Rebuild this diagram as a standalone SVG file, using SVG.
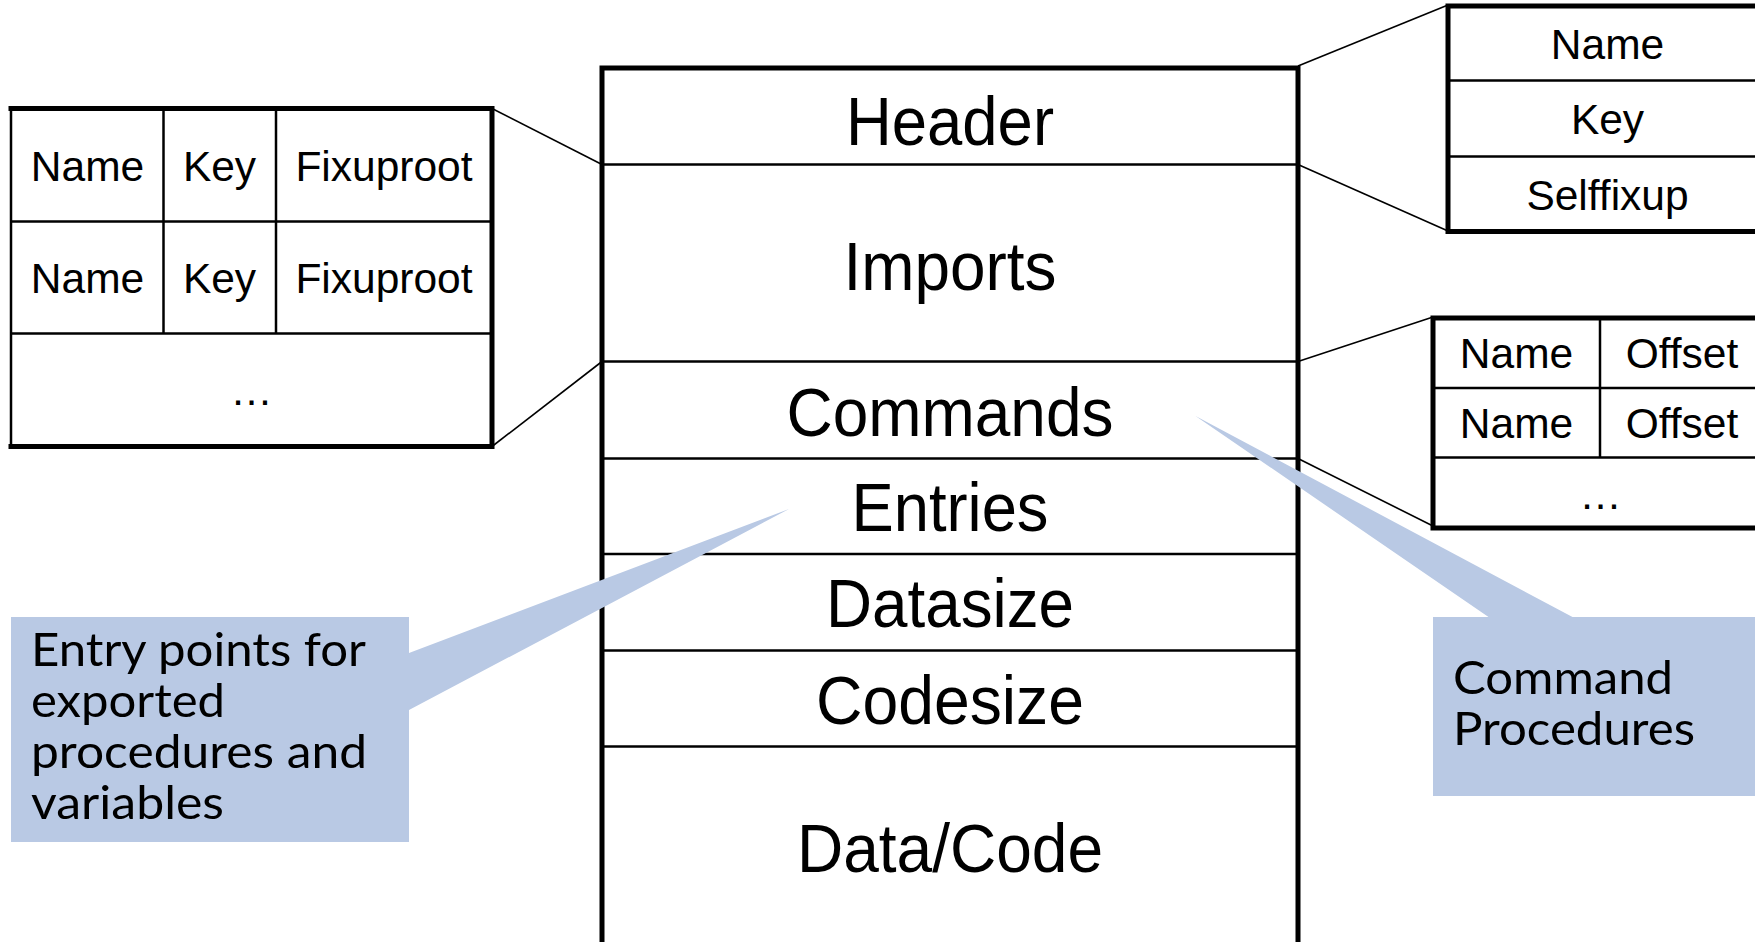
<svg xmlns="http://www.w3.org/2000/svg" width="1755" height="942" viewBox="0 0 1755 942">
  <style>
    .bg { fill: #ffffff; }
    .thick { fill: none; stroke: #000000; stroke-width: 5; stroke-linecap: square; }
    .thin { fill: none; stroke: #000000; stroke-width: 2.5; }
    .edge { fill: none; stroke: #000000; stroke-width: 1.6; }
    .cell { font-family: "Liberation Sans", Arial, sans-serif; font-size: 42.5px; fill: #000000; text-anchor: middle; }
    .seg { font-family: "Liberation Sans", Arial, sans-serif; font-size: 69px; fill: #000000; text-anchor: middle; }
    .callout { fill: #B9C9E4; }
    .note { font-family: Lato, "Open Sans", sans-serif; font-size: 47px; fill: #000000; }
  </style>

  <rect class="bg" x="0" y="0" width="1755" height="942"/>

  <!-- object file layout -->
  <g id="module">
    <line class="thin" x1="602" y1="164.5" x2="1298" y2="164.5"/>
    <line class="thin" x1="602" y1="361.5" x2="1298" y2="361.5"/>
    <line class="thin" x1="602" y1="458.5" x2="1298" y2="458.5"/>
    <line class="thin" x1="602" y1="554" x2="1298" y2="554"/>
    <line class="thin" x1="602" y1="650.5" x2="1298" y2="650.5"/>
    <line class="thin" x1="602" y1="746.5" x2="1298" y2="746.5"/>
    <path class="thick" d="M602,960 V68 H1298 V960"/>
    <text class="seg" x="950" y="144.5" textLength="208" lengthAdjust="spacingAndGlyphs">Header</text>
    <text class="seg" x="950" y="289.5" textLength="213" lengthAdjust="spacingAndGlyphs">Imports</text>
    <text class="seg" x="950" y="435.5" textLength="327" lengthAdjust="spacingAndGlyphs">Commands</text>
    <text class="seg" x="950" y="530.5" textLength="197" lengthAdjust="spacingAndGlyphs">Entries</text>
    <text class="seg" x="950" y="627" textLength="248" lengthAdjust="spacingAndGlyphs">Datasize</text>
    <text class="seg" x="950" y="723.5" textLength="268" lengthAdjust="spacingAndGlyphs">Codesize</text>
    <text class="seg" x="950" y="871.5" textLength="306" lengthAdjust="spacingAndGlyphs">Data/Code</text>
  </g>

  <!-- imports table -->
  <g id="imports-table">
    <line class="thin" x1="11" y1="221.5" x2="492" y2="221.5"/>
    <line class="thin" x1="11" y1="333.5" x2="492" y2="333.5"/>
    <line class="thin" x1="163.5" y1="108.5" x2="163.5" y2="333.5"/>
    <line class="thin" x1="276" y1="108.5" x2="276" y2="333.5"/>
    <line class="thin" x1="11" y1="108.5" x2="11" y2="446.5"/>
    <path class="thick" d="M11,108.5 H492 V446.5 H11"/>
    <text class="cell" x="87.5" y="181">Name</text>
    <text class="cell" x="219.5" y="181">Key</text>
    <text class="cell" x="384" y="181">Fixuproot</text>
    <text class="cell" x="87.5" y="293">Name</text>
    <text class="cell" x="219.5" y="293">Key</text>
    <text class="cell" x="384" y="293">Fixuproot</text>
    <text class="cell" x="251.5" y="405">…</text>
  </g>

  <!-- header table -->
  <g id="header-table">
    <line class="thin" x1="1448" y1="80.5" x2="1760" y2="80.5"/>
    <line class="thin" x1="1448" y1="156.5" x2="1760" y2="156.5"/>
    <path class="thick" d="M1760,6 H1448 V231.5 H1760"/>
    <text class="cell" x="1607.5" y="59">Name</text>
    <text class="cell" x="1607.5" y="134">Key</text>
    <text class="cell" x="1607.5" y="209.5">Selffixup</text>
  </g>

  <!-- commands table -->
  <g id="commands-table">
    <line class="thin" x1="1433" y1="388" x2="1760" y2="388"/>
    <line class="thin" x1="1433" y1="457.5" x2="1760" y2="457.5"/>
    <line class="thin" x1="1600" y1="318" x2="1600" y2="457.5"/>
    <path class="thick" d="M1760,318 H1433 V528 H1760"/>
    <text class="cell" x="1516.5" y="368">Name</text>
    <text class="cell" x="1682" y="368">Offset</text>
    <text class="cell" x="1516.5" y="438">Name</text>
    <text class="cell" x="1682" y="438">Offset</text>
    <text class="cell" x="1600.5" y="509">…</text>
  </g>

  <!-- zoom-out guide lines -->
  <g id="connectors">
    <line class="edge" x1="492" y1="108.5" x2="602" y2="164.5"/>
    <line class="edge" x1="492" y1="446.5" x2="602" y2="361.5"/>
    <line class="edge" x1="1298" y1="66" x2="1448" y2="5"/>
    <line class="edge" x1="1298" y1="164.5" x2="1448" y2="231"/>
    <line class="edge" x1="1298" y1="361.5" x2="1433" y2="317"/>
    <line class="edge" x1="1298" y1="458.5" x2="1433" y2="526"/>
  </g>

  <!-- callouts -->
  <g id="entries-note">
    <path class="callout" d="M11,617 H409 V653 L789,509 L409,710 V842 H11 Z"/>
    <text class="note" x="31" y="666" textLength="335" lengthAdjust="spacingAndGlyphs">Entry points for</text>
    <text class="note" x="31" y="717" textLength="194" lengthAdjust="spacingAndGlyphs">exported</text>
    <text class="note" x="31" y="768" textLength="336" lengthAdjust="spacingAndGlyphs">procedures and</text>
    <text class="note" x="31" y="819" textLength="193" lengthAdjust="spacingAndGlyphs">variables</text>
  </g>

  <g id="commands-note">
    <path class="callout" d="M1433,617 H1488.5 L1195.5,416 L1572.5,617 H1755 V796 H1433 Z"/>
    <text class="note" x="1453" y="694" textLength="220" lengthAdjust="spacingAndGlyphs">Command</text>
    <text class="note" x="1453" y="745" textLength="242" lengthAdjust="spacingAndGlyphs">Procedures</text>
  </g>
</svg>
